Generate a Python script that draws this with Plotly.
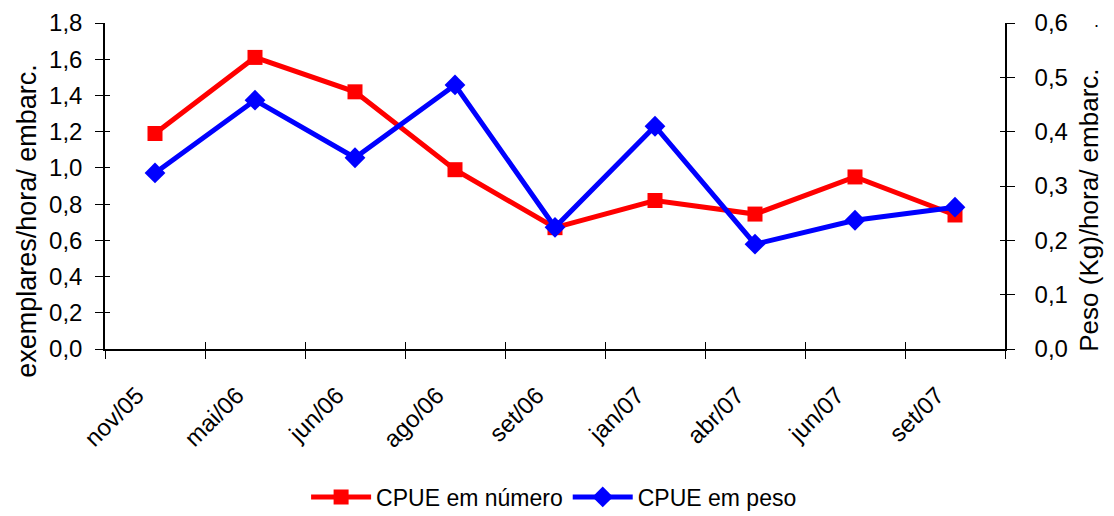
import plotly.graph_objects as go

categories = ["nov/05", "mai/06", "jun/06", "ago/06", "set/06", "jan/07", "abr/07", "jun/07", "set/07"]
cpue_numero = [1.19, 1.61, 1.42, 0.99, 0.67, 0.82, 0.745, 0.95, 0.74]
cpue_peso = [0.324, 0.458, 0.352, 0.486, 0.224, 0.41, 0.193, 0.237, 0.261]

font = "Liberation Sans, Arial, sans-serif"
positions = list(range(len(categories)))

fig = go.Figure()
fig.add_trace(go.Scatter(
    x=categories, y=cpue_numero, name="CPUE em número", mode="lines+markers",
    line=dict(color="#ff0000", width=5),
    marker=dict(symbol="square", size=15, color="#ff0000"),
))
fig.add_trace(go.Scatter(
    x=categories, y=cpue_peso, name="CPUE em peso", mode="lines+markers", yaxis="y2",
    line=dict(color="#0000ff", width=5),
    marker=dict(symbol="diamond", size=16, color="#0000ff"),
))
# invisible helper traces to draw the inner half of the "cross" tick marks
fig.add_trace(go.Scatter(x=positions, y=cpue_numero, xaxis="x2", yaxis="y3", mode="lines",
                         line=dict(width=0), showlegend=False, hoverinfo="skip"))
fig.add_trace(go.Scatter(x=positions, y=cpue_peso, xaxis="x2", yaxis="y4", mode="lines",
                         line=dict(width=0), showlegend=False, hoverinfo="skip"))

axis_common = dict(showline=True, linecolor="black", linewidth=1.5, tickcolor="black",
                   tickwidth=1.2, showgrid=False, zeroline=False, automargin=False)

fig.update_layout(
    width=1106, height=508,
    margin=dict(l=97, r=109, t=15, b=167),
    paper_bgcolor="white", plot_bgcolor="white",
    separators=",.",
    font=dict(family=font, size=24, color="black"),
    showlegend=True,
    legend=dict(orientation="h", x=0.499, xanchor="center",
                yref="container", y=0.0374, yanchor="middle",
                font=dict(size=23), itemwidth=60, tracegroupgap=0),
    xaxis=dict(
        type="category", tickson="boundaries", tickangle=-45,
        ticks="outside", ticklen=8, range=[-0.5, 8.5],
        ticklabelstandoff=21, ticklabelshift=-18,
        tickfont=dict(size=24), **axis_common,
    ),
    xaxis2=dict(
        type="linear", overlaying="x", range=[-0.5, 8.5], tick0=-0.5, dtick=1,
        ticks="inside", ticklen=7, showticklabels=False, **axis_common,
    ),
    yaxis=dict(
        range=[0, 1.8], dtick=0.2, tickformat=".1f",
        ticks="outside", ticklen=8, ticklabelstandoff=8,
        tickfont=dict(size=24), **axis_common,
    ),
    yaxis3=dict(
        range=[0, 1.8], dtick=0.2, overlaying="y", side="left", anchor="x2",
        ticks="inside", ticklen=5, showticklabels=False, **axis_common,
    ),
    yaxis2=dict(
        range=[0, 0.6], dtick=0.1, tickformat=".1f", overlaying="y", side="right",
        ticks="outside", ticklen=8, ticklabelstandoff=15,
        tickfont=dict(size=24), **axis_common,
    ),
    yaxis4=dict(
        range=[0, 0.6], dtick=0.1, overlaying="y", side="right", anchor="x2",
        ticks="inside", ticklen=5, showticklabels=False, **axis_common,
    ),
    annotations=[
        dict(text="exemplares/hora/ embarc.", xref="paper", yref="paper",
             x=-0.0867, y=0.393, textangle=-90, showarrow=False,
             xanchor="center", yanchor="middle", font=dict(size=27)),
        dict(text="Peso (Kg)/hora/ embarc.", xref="paper", yref="paper",
             x=1.094, y=0.426, textangle=-90, showarrow=False,
             xanchor="center", yanchor="middle", font=dict(size=26)),
        dict(text=".", xref="paper", yref="paper", x=1.102, y=1.044,
             xanchor="center", yanchor="top",
             showarrow=False, font=dict(size=18)),
    ],
)

fig.write_html("out.html")
